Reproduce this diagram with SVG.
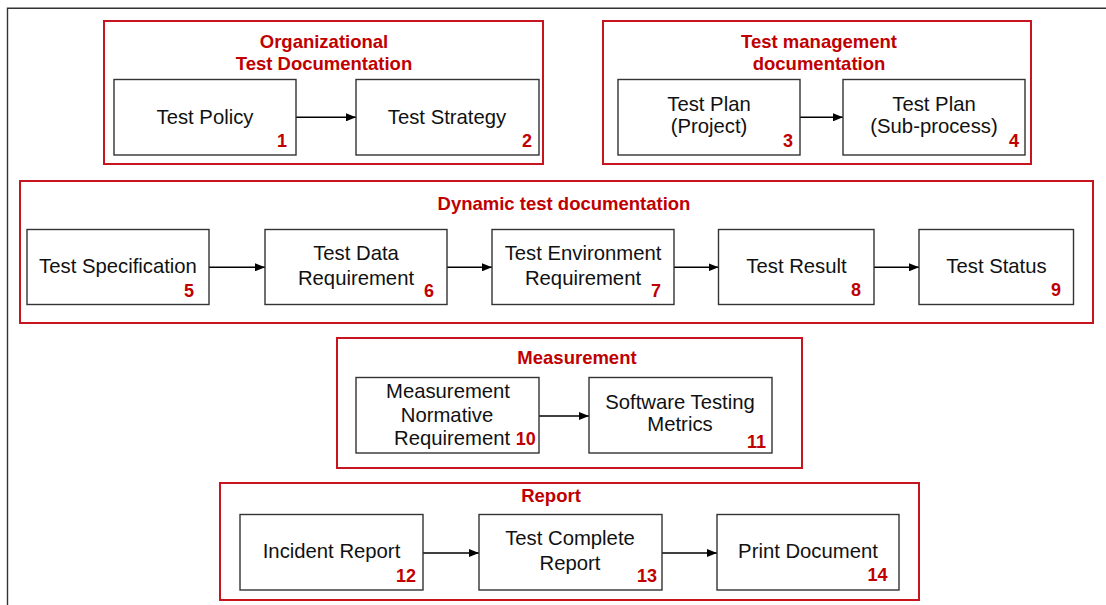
<svg xmlns="http://www.w3.org/2000/svg" width="1106" height="605" viewBox="0 0 1106 605">
<defs>
<style>
.grp{fill:none;stroke:#c8141e;stroke-width:2}
.box{fill:#fff;stroke:#333;stroke-width:1.4}
.t{font-family:"Liberation Sans",Arial,sans-serif;font-size:20.3px;fill:#111;text-anchor:middle}
.h{font-family:"Liberation Sans",Arial,sans-serif;font-size:18.5px;font-weight:bold;fill:#c00000;text-anchor:middle}
.n{font-family:"Liberation Sans",Arial,sans-serif;font-size:18px;font-weight:bold;fill:#c00000;text-anchor:end}
.c{fill:none;stroke:#000;stroke-width:1.4;marker-end:url(#ah)}
</style>
<marker id="ah" markerWidth="10" markerHeight="8" refX="10" refY="4" orient="auto" markerUnits="userSpaceOnUse">
<path d="M0,0 L10,4 L0,8 Z" fill="#000"/>
</marker>
</defs>
<rect width="1106" height="605" fill="#fff"/>
<path d="M7.5,605 V8.3 H1106" fill="none" stroke="#333" stroke-width="1.4"/>

<g id="group-org">
<rect class="grp" x="104" y="21" width="439" height="143"/>
<text class="h" x="324" y="47.5">Organizational</text>
<text class="h" x="324" y="70">Test Documentation</text>
</g>
<g id="group-mgmt">
<rect class="grp" x="603" y="21" width="428" height="143"/>
<text class="h" x="819" y="47.5">Test management</text>
<text class="h" x="819" y="69.5">documentation</text>
</g>
<g id="group-dynamic">
<rect class="grp" x="20" y="181" width="1073" height="142"/>
<text class="h" x="564" y="209.5">Dynamic test documentation</text>
</g>
<g id="group-measurement">
<rect class="grp" x="337" y="338" width="465" height="130"/>
<text class="h" x="577" y="363.5">Measurement</text>
</g>
<g id="group-report">
<rect class="grp" x="220" y="483" width="699" height="117"/>
<text class="h" x="551" y="501.5">Report</text>
</g>

<g id="connectors">
<path class="c" d="M296,117.3 H356"/>
<path class="c" d="M800,117.3 H843"/>
<path class="c" d="M209,267.3 H265"/>
<path class="c" d="M447,267.3 H492"/>
<path class="c" d="M674,267.3 H718.5"/>
<path class="c" d="M874,267.3 H919"/>
<path class="c" d="M539,416 H589"/>
<path class="c" d="M423,553 H479"/>
<path class="c" d="M662,553 H717"/>
</g>

<g id="node-1">
<rect class="box" x="114" y="79.5" width="182" height="75.5"/>
<text class="t" x="205" y="124">Test Policy</text>
<text class="n" x="287" y="147">1</text>
</g>
<g id="node-2">
<rect class="box" x="356" y="79.5" width="183" height="75.5"/>
<text class="t" x="447" y="124">Test Strategy</text>
<text class="n" x="532" y="147">2</text>
</g>
<g id="node-3">
<rect class="box" x="618" y="79.5" width="182" height="75.5"/>
<text class="t" x="709" y="111">Test Plan</text>
<text class="t" x="709" y="133">(Project)</text>
<text class="n" x="793" y="147">3</text>
</g>
<g id="node-4">
<rect class="box" x="843" y="79.5" width="182" height="75.5"/>
<text class="t" x="934" y="111">Test Plan</text>
<text class="t" x="934" y="133">(Sub-process)</text>
<text class="n" x="1019" y="147">4</text>
</g>
<g id="node-5">
<rect class="box" x="27" y="229.5" width="182" height="75"/>
<text class="t" x="118" y="273.3">Test Specification</text>
<text class="n" x="194" y="296.7">5</text>
</g>
<g id="node-6">
<rect class="box" x="265" y="229.5" width="182" height="75"/>
<text class="t" x="356" y="260">Test Data</text>
<text class="t" x="356" y="285">Requirement</text>
<text class="n" x="434" y="296.7">6</text>
</g>
<g id="node-7">
<rect class="box" x="492" y="229.5" width="182" height="75"/>
<text class="t" x="583" y="260">Test Environment</text>
<text class="t" x="583" y="285">Requirement</text>
<text class="n" x="661" y="296.7">7</text>
</g>
<g id="node-8">
<rect class="box" x="718.5" y="229.5" width="155.5" height="75"/>
<text class="t" x="796.5" y="273.3">Test Result</text>
<text class="n" x="861" y="296.3">8</text>
</g>
<g id="node-9">
<rect class="box" x="919" y="229.5" width="154.5" height="75"/>
<text class="t" x="996.5" y="273.3">Test Status</text>
<text class="n" x="1061" y="296.3">9</text>
</g>
<g id="node-10">
<rect class="box" x="356" y="377.5" width="183" height="75.5"/>
<text class="t" x="448" y="398.3">Measurement</text>
<text class="t" x="447" y="421.7">Normative</text>
<text class="t" x="394" y="445" style="text-anchor:start">Requirement <tspan style="font-size:18px;font-weight:bold;fill:#c00000">10</tspan></text>
</g>
<g id="node-11">
<rect class="box" x="589" y="377.5" width="183" height="75.5"/>
<text class="t" x="680" y="409.3">Software Testing</text>
<text class="t" x="680" y="431">Metrics</text>
<text class="n" x="766" y="448.3">11</text>
</g>
<g id="node-12">
<rect class="box" x="240" y="514.5" width="183" height="75.5"/>
<text class="t" x="331.5" y="558.3">Incident Report</text>
<text class="n" x="416" y="581.7">12</text>
</g>
<g id="node-13">
<rect class="box" x="479" y="514.5" width="183" height="75.5"/>
<text class="t" x="570" y="545">Test Complete</text>
<text class="t" x="570" y="570">Report</text>
<text class="n" x="657" y="581.7">13</text>
</g>
<g id="node-14">
<rect class="box" x="717" y="514.5" width="182" height="75.5"/>
<text class="t" x="808" y="558.3">Print Document</text>
<text class="n" x="887.5" y="581">14</text>
</g>
</svg>
